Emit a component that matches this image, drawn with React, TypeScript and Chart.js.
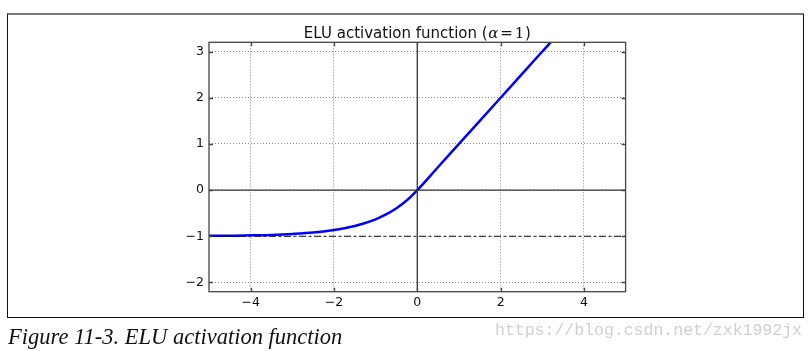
import React, { useEffect, useRef } from "react";
import { Chart, registerables } from "chart.js";

Chart.register(...registerables);

// ELU curve, values
const eluX = [-5, -4.5, -4, -3.5, -3, -2.5, -2, -1.75, -1.5, -1.25, -1, -0.75, -0.5, -0.25, 0, 0.5, 1, 1.5, 2, 2.5, 3, 3.2];
const eluY = [-0.99, -0.99, -0.98, -0.97, -0.95, -0.92, -0.865, -0.826, -0.777, -0.713, -0.632, -0.528, -0.393, -0.221, 0, 0.5, 1, 1.5, 2, 2.5, 3, 3.2];
// reference lines
const hZeroX = [-5, 5];
const hZeroY = [0, 0];
const vZeroX = [0, 0];
const vZeroY = [-2.2, 3.2];
const asymX = [-5, 5];
const asymY = [-1, -1];
// axes
const xRange = [-5, 5];
const yRange = [-2.2, 3.2];
const xTicks = [-4, -2, 0, 2, 4];
const yTicks = [-2, -1, 0, 1, 2, 3];
const titleMain = "ELU activation function (";
const titleAlpha = "α";
const titleEq = "=";
const titleOne = "1";
const titleClose = ")";
const caption = "Figure 11-3. ELU activation function";
const watermark = "https://blog.csdn.net/zxk1992jx";

const pts = (xs: number[], ys: number[]) => xs.map((x, i) => ({ x, y: ys[i] }));
const fmt = (v: number) => (v < 0 ? "\u2212" + Math.abs(v) : String(v));

const framePlugin = {
  id: "frame",
  afterDatasetsDraw(chart: any) {
    const { ctx, chartArea: a, scales } = chart;
    ctx.save();
    ctx.strokeStyle = "#444";
    ctx.lineWidth = 1.3;
    ctx.beginPath();
    xTicks.forEach((v) => {
      const px = Math.round(scales.x.getPixelForValue(v)) + 0.5;
      ctx.moveTo(px, a.top);
      ctx.lineTo(px, a.top + 4);
      ctx.moveTo(px, a.bottom);
      ctx.lineTo(px, a.bottom - 4);
    });
    yTicks.forEach((v) => {
      const py = Math.round(scales.y.getPixelForValue(v)) + 0.5;
      ctx.moveTo(a.left, py);
      ctx.lineTo(a.left + 4, py);
      ctx.moveTo(a.right, py);
      ctx.lineTo(a.right - 4, py);
    });
    ctx.stroke();
    ctx.strokeRect(a.left, a.top, a.right - a.left, a.bottom - a.top);
    ctx.restore();
  },
  afterDraw(chart: any) {
    const { ctx, chartArea: a } = chart;
    ctx.save();
    ctx.fillStyle = "#111";
    ctx.textBaseline = "alphabetic";
    const segs = [
      { t: titleMain, f: "15px 'DejaVu Sans'", gap: 0.5 },
      { t: titleAlpha, f: "italic 15px 'DejaVu Serif'", gap: 2 },
      { t: titleEq, f: "15px 'DejaVu Serif'", gap: 2 },
      { t: titleOne, f: "15px 'DejaVu Serif'", gap: 0.5 },
      { t: titleClose, f: "15px 'DejaVu Sans'", gap: 0 },
    ];
    let total = 0;
    const widths = segs.map((s) => {
      ctx.font = s.f;
      const w = ctx.measureText(s.t).width;
      total += w + s.gap;
      return w;
    });
    let x = (a.left + a.right) / 2 - total / 2;
    segs.forEach((s, i) => {
      ctx.font = s.f;
      ctx.fillText(s.t, x, 37.5);
      x += widths[i] + s.gap;
    });
    ctx.restore();
  },
};

export default function App() {
  const ref = useRef<HTMLCanvasElement>(null);
  useEffect(() => {
    if (!ref.current) return;
    const chart = new Chart(ref.current, {
      type: "scatter",
      data: {
        datasets: [
          { data: pts(hZeroX, hZeroY), showLine: true, borderColor: "#333", borderWidth: 1.3, pointRadius: 0 },
          { data: pts(vZeroX, vZeroY), showLine: true, borderColor: "#333", borderWidth: 1.3, pointRadius: 0 },
          { data: pts(asymX, asymY), showLine: true, borderColor: "#111", borderWidth: 1.1, borderDash: [7, 3, 2, 3], pointRadius: 0 },
          { data: pts(eluX, eluY), showLine: true, borderColor: "#0000ff", borderWidth: 2.5, pointRadius: 0, cubicInterpolationMode: "monotone" },
        ],
      } as any,
      options: {
        animation: false,
        responsive: false,
        devicePixelRatio: 1,
        layout: { padding: { left: 169, right: 186.4, top: 42.3, bottom: 29.3 } },
        plugins: { legend: { display: false }, tooltip: { enabled: false }, title: { display: false } },
        scales: {
          x: {
            type: "linear",
            min: xRange[0],
            max: xRange[1],
            afterBuildTicks: (s: any) => { s.ticks = xTicks.map((v) => ({ value: v })); },
            afterFit: (s: any) => { s.height = 30; },
            grid: { color: "#8a8a8a", lineWidth: 1, drawTicks: false },
            border: { display: false, dash: [1, 2] },
            ticks: { padding: 4, color: "#111", font: { family: "'DejaVu Sans'", size: 12.5 }, callback: (v: any) => fmt(Number(v)) },
          },
          y: {
            type: "linear",
            min: yRange[0],
            max: yRange[1],
            afterBuildTicks: (s: any) => { s.ticks = yTicks.map((v) => ({ value: v })); },
            afterFit: (s: any) => { s.width = 40; },
            grid: { color: "#8a8a8a", lineWidth: 1, drawTicks: false },
            border: { display: false, dash: [1, 2] },
            ticks: { padding: 5, color: "#111", font: { family: "'DejaVu Sans'", size: 12.5 }, callback: (v: any) => fmt(Number(v)) },
          },
        },
      } as any,
      plugins: [framePlugin],
    });
    return () => chart.destroy();
  }, []);

  return (
    <div style={{ position: "fixed", left: 0, top: 0, width: 812, height: 351, background: "#fff", overflow: "hidden" }}>
      <div
        style={{
          position: "absolute",
          left: 7,
          top: 13,
          width: 797,
          height: 305,
          boxSizing: "border-box",
          borderLeft: "1.5px solid #111",
          borderRight: "1.5px solid #111",
          borderBottom: "1.5px solid #111",
          borderTop: "2px solid #777",
        }}
      />
      <canvas ref={ref} width={812} height={351} style={{ position: "absolute", left: 0, top: 0, width: 812, height: 351 }} />
      <div
        style={{
          position: "absolute",
          left: 8,
          top: 326,
          fontFamily: "'Liberation Serif', serif",
          fontStyle: "italic",
          fontSize: 22.5,
          lineHeight: "22px",
          color: "#111",
          whiteSpace: "nowrap",
        }}
      >
        {caption}
      </div>
      <div
        style={{
          position: "absolute",
          left: 495,
          top: 322,
          fontFamily: "'Liberation Mono', monospace",
          fontSize: 16.5,
          lineHeight: "17px",
          color: "#d0d0d0",
          whiteSpace: "nowrap",
        }}
      >
        {watermark}
      </div>
    </div>
  );
}
